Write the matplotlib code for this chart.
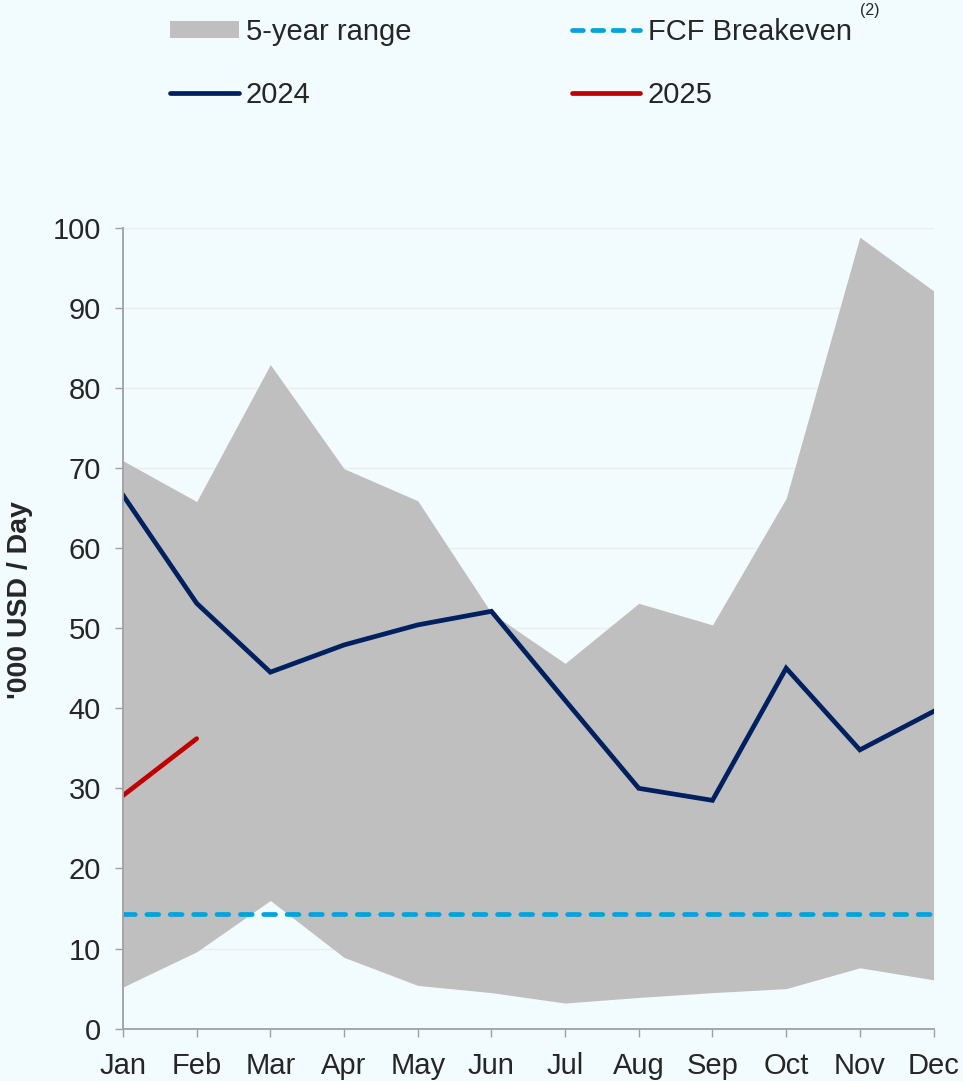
import matplotlib
matplotlib.use('Agg')
import matplotlib.pyplot as plt
from matplotlib.patches import Patch
from matplotlib.lines import Line2D

months = ['Jan', 'Feb', 'Mar', 'Apr', 'May', 'Jun', 'Jul', 'Aug', 'Sep', 'Oct', 'Nov', 'Dec']
range_high = [70.9, 65.8, 82.9, 69.9, 65.9, 51.9, 45.6, 53.1, 50.4, 66.2, 98.8, 92.1]
range_low = [5.2, 9.6, 16.0, 8.9, 5.4, 4.5, 3.2, 3.9, 4.5, 5.0, 7.6, 6.1]
rates_2024 = [66.6, 53.1, 44.5, 47.9, 50.4, 52.1, 41.0, 30.0, 28.5, 45.0, 34.8, 39.6]
rates_2025 = [29.1, 36.2]
fcf_breakeven = 14.3

BG = '#F2FBFE'
TXT = '#262626'
AXIS = '#A0A0A0'
LW = 3.4

plt.rcParams['font.family'] = ['Liberation Sans', 'DejaVu Sans']

fig = plt.figure(figsize=(9.63, 10.81), dpi=100, facecolor=BG)
ax = fig.add_axes([0.1277, 0.0484, 0.8417, 0.7411])
ax.set_facecolor(BG)

x = list(range(len(months)))
ax.fill_between(x, range_low, range_high, color='#BFBFBF', linewidth=0, zorder=2)
ax.plot([x[0], x[-1]], [fcf_breakeven, fcf_breakeven], color='#00A3E0', lw=LW,
        dashes=(2.5, 2.45), dash_capstyle='round', zorder=3)
ax.plot(x, rates_2024, color='#002060', lw=LW, solid_joinstyle='miter', zorder=4)
ax.plot(x[:len(rates_2025)], rates_2025, color='#C00000', lw=LW,
        solid_capstyle='round', zorder=5)

ax.set_xlim(0, 11)
ax.set_ylim(0, 100)
ax.set_xticks(x)
ax.set_xticklabels(months)
ax.set_yticks(range(0, 101, 10))
ax.yaxis.grid(True, color='#EDEDED', lw=1, zorder=0)
ax.set_axisbelow(True)

for side in ['top', 'right']:
    ax.spines[side].set_visible(False)
for side in ['left', 'bottom']:
    ax.spines[side].set_color(AXIS)
    ax.spines[side].set_linewidth(1.3)
    ax.spines[side].set_zorder(6)
ax.tick_params(axis='both', direction='out', length=6, width=1, color=AXIS,
               labelsize=21, labelcolor=TXT)
ax.tick_params(axis='x', pad=11)
ax.tick_params(axis='y', pad=10)

fig.text(0.021, 1 - 600 / 1081, "'000 USD / Day", rotation=90, fontsize=20.5,
         fontweight='bold', color=TXT, ha='center', va='center')

handles = [
    Patch(facecolor='#BFBFBF', edgecolor='none'),
    Line2D([], [], color='#002060', lw=LW, solid_capstyle='round'),
    Line2D([], [], color='#00A3E0', lw=LW, dashes=(2.3, 2.0), dash_capstyle='round'),
    Line2D([], [], color='#C00000', lw=LW, solid_capstyle='round'),
]
labels = ['5-year range', '2024', 'FCF Breakeven', '2025']
fig.legend(handles, labels, ncol=2, loc='upper left',
           bbox_to_anchor=(170 / 963, 1 - 18 / 1081), frameon=False,
           fontsize=21, labelcolor=TXT, borderpad=0, borderaxespad=0,
           handlelength=2.35, handleheight=0.55, handletextpad=0.25,
           columnspacing=5.5, labelspacing=1.2)
fig.text(860 / 963, 1 - 11 / 1081, '(2)', fontsize=11.5, color=TXT,
         ha='left', va='center')

fig.savefig('out.png', dpi=100, facecolor=BG)
